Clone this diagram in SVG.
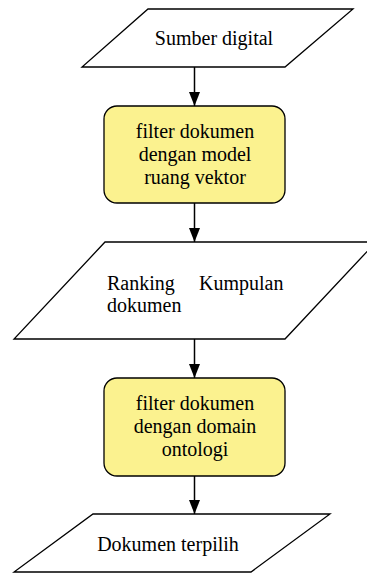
<svg xmlns="http://www.w3.org/2000/svg" width="367" height="576" viewBox="0 0 367 576">
<style>
.io{fill:#fff;stroke:#000;stroke-width:1.3}
.proc{fill:#FBF28F;stroke:#000;stroke-width:1.3}
.t{font-family:"Liberation Serif","Times New Roman",serif;font-size:20px;fill:#000}
.c{text-anchor:middle}
.conn line{stroke:#000;stroke-width:1.5}
</style>
<defs>
<marker id="ah" markerUnits="userSpaceOnUse" markerWidth="14" markerHeight="11" refX="14" refY="5.5" orient="auto">
<path d="M0,0 L14,5.5 L0,11 Z" fill="#000"/>
</marker>
</defs>
<rect width="367" height="576" fill="#fff"/>
<g id="connectors" class="conn">
<line x1="194.5" y1="67" x2="194.5" y2="106" marker-end="url(#ah)"/>
<line x1="194.5" y1="203" x2="194.5" y2="242" marker-end="url(#ah)"/>
<line x1="194.5" y1="339" x2="194.5" y2="378" marker-end="url(#ah)"/>
<line x1="194.5" y1="476" x2="194.5" y2="514" marker-end="url(#ah)"/>
</g>
<g id="sumber">
<polygon class="io" points="148,9 353,9 285,67 82,67"/>
<text class="t c" x="214" y="45">Sumber digital</text>
</g>
<g id="filter1">
<rect class="proc" x="104" y="106" width="181" height="97" rx="13"/>
<text class="t c" x="195" y="138">filter dokumen</text>
<text class="t c" x="195" y="161">dengan model</text>
<text class="t c" x="195" y="184">ruang vektor</text>
</g>
<g id="ranking">
<polygon class="io" points="105,242 376,242 285,339 14,339"/>
<text class="t" x="107" y="290">Ranking</text>
<text class="t" x="199" y="290">Kumpulan</text>
<text class="t" x="107" y="312">dokumen</text>
</g>
<g id="filter2">
<rect class="proc" x="104" y="378" width="181" height="98" rx="13"/>
<text class="t c" x="195" y="410">filter dokumen</text>
<text class="t c" x="195" y="433">dengan domain</text>
<text class="t c" x="195" y="456">ontologi</text>
</g>
<g id="terpilih">
<polygon class="io" points="93,514 330,514 251,572 14,572"/>
<text class="t c" x="168" y="551">Dokumen terpilih</text>
</g>
</svg>
